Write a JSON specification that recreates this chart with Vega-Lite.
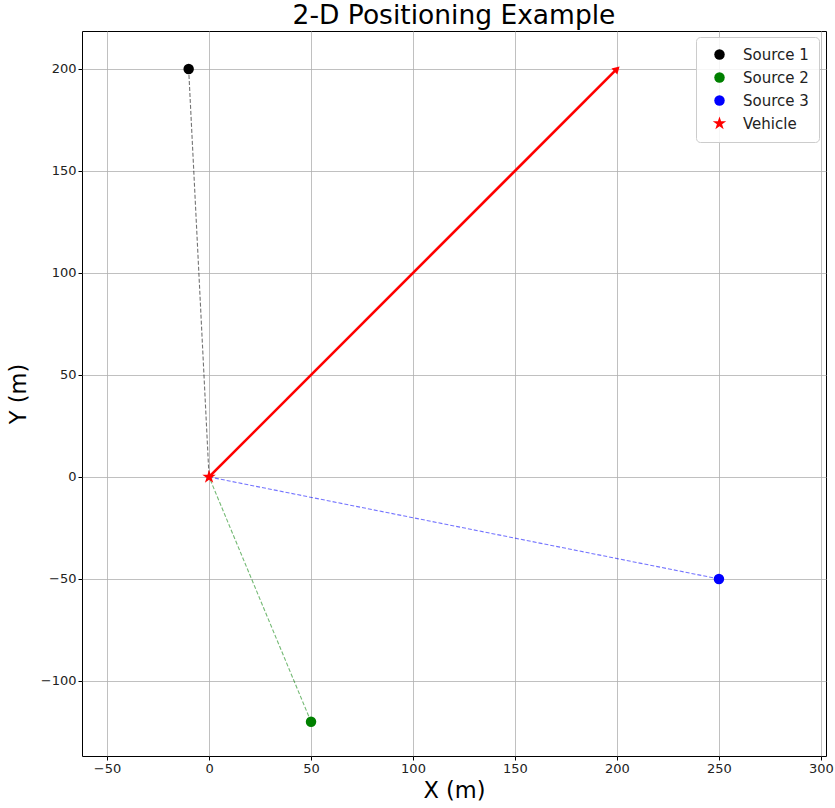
{
  "$schema": "https://vega.github.io/schema/vega-lite/v6.json",
  "width": 744,
  "height": 725,
  "autosize": {"type": "none"},
  "padding": {"left": 82, "top": 31, "right": 9, "bottom": 52},
  "background": "white",
  "title": {"text": "2-D Positioning Example", "fontSize": 26.5, "font": "DejaVu Sans", "fontWeight": "normal", "color": "black", "offset": 2, "anchor": "middle"},
  "config": {
    "font": "DejaVu Sans",
    "view": {"stroke": "black", "strokeWidth": 1},
    "axis": {
      "labelFontSize": 13, "labelColor": "#222", "labelFont": "DejaVu Sans",
      "titleFontSize": 22.5, "titleFontWeight": "normal", "titleColor": "black", "titleFont": "DejaVu Sans",
      "tickColor": "black", "tickSize": 4, "domain": false,
      "gridColor": "#b0b0b0", "gridWidth": 0.8, "gridOpacity": 1
    },
    "legend": {"labelFontSize": 15, "labelFont": "DejaVu Sans", "labelColor": "#222"}
  },
  "datasets": {
    "points": [
      {"name": "Source 1", "x": -10, "y": 200},
      {"name": "Source 2", "x": 50, "y": -120},
      {"name": "Source 3", "x": 250, "y": -50},
      {"name": "Vehicle", "x": 0, "y": 0}
    ],
    "rays": [
      {"source": "Source 1", "x": -10, "y": 200, "order": 0},
      {"source": "Source 1", "x": 0, "y": 0, "order": 1},
      {"source": "Source 2", "x": 50, "y": -120, "order": 0},
      {"source": "Source 2", "x": 0, "y": 0, "order": 1},
      {"source": "Source 3", "x": 250, "y": -50, "order": 0},
      {"source": "Source 3", "x": 0, "y": 0, "order": 1}
    ],
    "path": [
      {"x": 0, "y": 0, "order": 0},
      {"x": 200, "y": 200, "order": 1}
    ],
    "head": [
      {"x": 200, "y": 200}
    ]
  },
  "layer": [
    {
      "data": {"name": "rays"},
      "mark": {"type": "line", "strokeWidth": 1.1, "strokeDash": [4, 2], "opacity": 0.55},
      "encoding": {
        "x": {"field": "x", "type": "quantitative", "scale": {"domain": [-62.3, 302.5], "nice": false, "zero": false},
              "axis": {"values": [-50, 0, 50, 100, 150, 200, 250, 300], "title": "X (m)", "titlePadding": 4}},
        "y": {"field": "y", "type": "quantitative", "scale": {"domain": [-136.8, 218.6], "nice": false, "zero": false},
              "axis": {"values": [-100, -50, 0, 50, 100, 150, 200], "title": "Y (m)", "titlePadding": 10}},
        "detail": {"field": "source"},
        "order": {"field": "order"},
        "color": {"field": "source", "type": "nominal", "legend": null,
                  "scale": {"domain": ["Source 1", "Source 2", "Source 3"], "range": ["black", "green", "blue"]}}
      }
    },
    {
      "data": {"name": "path"},
      "mark": {"type": "line", "color": "red", "strokeWidth": 2.6},
      "encoding": {
        "x": {"field": "x", "type": "quantitative"},
        "y": {"field": "y", "type": "quantitative"},
        "order": {"field": "order"}
      }
    },
    {
      "data": {"name": "head"},
      "mark": {"type": "point", "shape": "triangle-up", "angle": 45, "filled": true, "color": "red", "size": 70, "opacity": 1},
      "encoding": {
        "x": {"field": "x", "type": "quantitative"},
        "y": {"field": "y", "type": "quantitative"}
      }
    },
    {
      "data": {"name": "points"},
      "mark": {"type": "point", "filled": true, "opacity": 1, "size": 110},
      "encoding": {
        "x": {"field": "x", "type": "quantitative"},
        "y": {"field": "y", "type": "quantitative"},
        "color": {"field": "name", "type": "nominal",
                  "scale": {"domain": ["Source 1", "Source 2", "Source 3", "Vehicle"], "range": ["black", "green", "blue", "red"]},
                  "legend": {"title": null, "orient": "none", "legendX": 614, "legendY": 6,
                             "padding": 10, "rowPadding": 7, "labelOffset": 16, "symbolSize": 110,
                             "strokeColor": "#cccccc", "fillColor": "rgba(255,255,255,0.85)", "cornerRadius": 4,
                             "symbolOffset": 6}},
        "shape": {"field": "name", "type": "nominal",
                  "scale": {"domain": ["Source 1", "Source 2", "Source 3", "Vehicle"], "range": ["circle", "circle", "circle", "M0,-1.35L0.303,-0.417L1.284,-0.417L0.49,0.159L0.794,1.092L0,0.516L-0.794,1.092L-0.49,0.159L-1.284,-0.417L-0.303,-0.417Z"]},
                  "legend": {"title": null, "orient": "none", "legendX": 614, "legendY": 6,
                             "padding": 10, "rowPadding": 7, "labelOffset": 16, "symbolSize": 110,
                             "strokeColor": "#cccccc", "fillColor": "rgba(255,255,255,0.85)", "cornerRadius": 4,
                             "symbolOffset": 6}}
      }
    }
  ],
  "resolve": {"scale": {"color": "independent", "shape": "independent"}}
}
